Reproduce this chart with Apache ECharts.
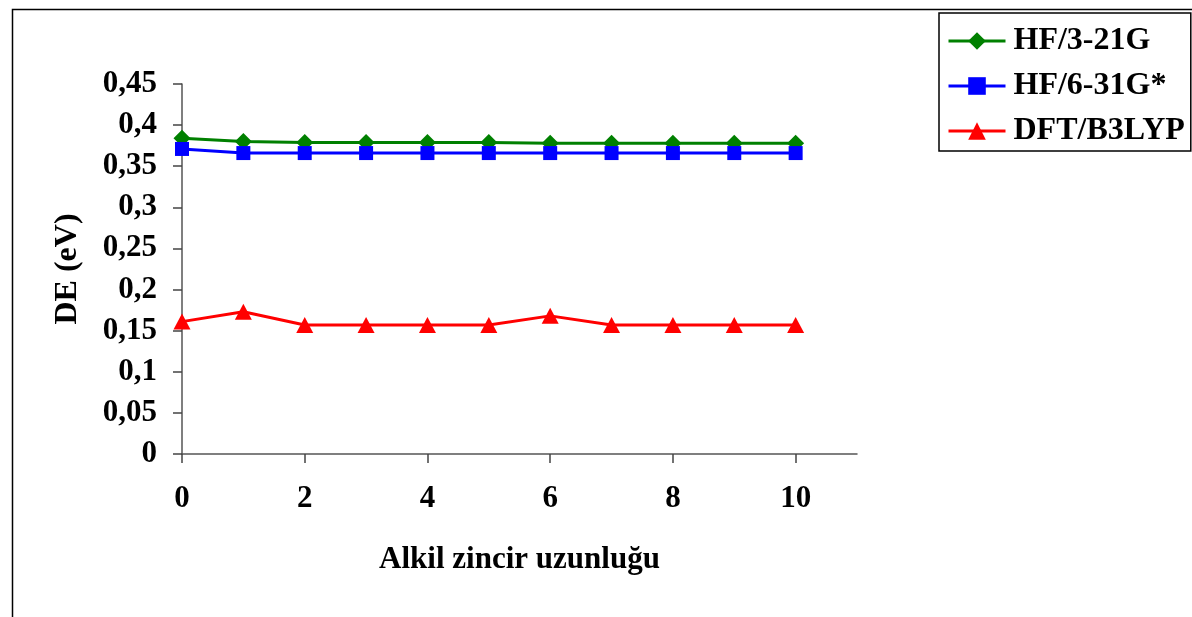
<!DOCTYPE html>
<html>
<head>
<meta charset="utf-8">
<script src="https://cdn.jsdelivr.net/npm/echarts@6/dist/echarts.min.js"></script>
<style>
  html, body { margin: 0; padding: 0; background: #fff; }
  #chart { width: 1192px; height: 617px; }
</style>
</head>
<body>
<div id="chart"></div>
<script>
// Alkyl chain length vs. energy gap (DE, eV) for three levels of theory
const chainLength = [0, 1, 2, 3, 4, 5, 6, 7, 8, 9, 10];
const hf321g  = [0.384, 0.380, 0.379, 0.379, 0.379, 0.379, 0.378, 0.378, 0.378, 0.378, 0.378];
const hf631gs = [0.371, 0.366, 0.366, 0.366, 0.366, 0.366, 0.366, 0.366, 0.366, 0.366, 0.366];
const b3lyp   = [0.161, 0.173, 0.157, 0.157, 0.157, 0.157, 0.168, 0.157, 0.157, 0.157, 0.157];
const xTicks = [0, 2, 4, 6, 8, 10];
const seriesNames = ['HF/3-21G', 'HF/6-31G*', 'DFT/B3LYP'];

const font = '"Liberation Serif", "Times New Roman", serif';
const pairs = arr => chainLength.map((x, i) => [x, arr[i]]);

const chart = echarts.init(document.getElementById('chart'), null, { renderer: 'canvas' });
chart.setOption({
  animation: false,
  backgroundColor: '#fff',
  graphic: [
    { type: 'rect', left: 10, top: 7, shape: { width: 1200, height: 640 },
      style: { fill: 'none', stroke: '#000', lineWidth: 1.5 }, silent: true }
  ],
  grid: { left: 182, top: 84, width: 675, height: 370, containLabel: false },
  legend: {
    orient: 'vertical',
    left: 939, top: 13,
    width: 251, height: 139,
    padding: [12, 6, 4, 8],
    itemGap: 13,
    itemWidth: 57, itemHeight: 22,
    borderColor: '#000', borderWidth: 1.5,
    lineStyle: { width: 3 },
    textStyle: { fontFamily: font, fontWeight: 'bold', fontSize: 32, color: '#000', padding: [0, 0, 0, 3] },
    data: seriesNames
  },
  xAxis: {
    type: 'value', min: 0, max: 11,
    name: 'Alkil zincir uzunluğu', nameLocation: 'middle', nameGap: 90,
    nameTextStyle: { fontFamily: font, fontWeight: 'bold', fontSize: 31, color: '#000' },
    axisLine: { show: true, onZero: false, lineStyle: { color: '#555', width: 1.5 } },
    axisTick: { show: true, length: 9, customValues: xTicks, lineStyle: { color: '#444', width: 1.5 } },
    axisLabel: { customValues: xTicks, margin: 29, fontFamily: font, fontWeight: 'bold', fontSize: 31, color: '#000' },
    splitLine: { show: false }
  },
  yAxis: {
    type: 'value', min: 0, max: 0.45, interval: 0.05,
    name: 'DE (eV)', nameLocation: 'middle', nameGap: 98, nameRotate: 90,
    nameTextStyle: { fontFamily: font, fontWeight: 'bold', fontSize: 32, color: '#000' },
    axisLine: { show: true, lineStyle: { color: '#555', width: 1.5 } },
    axisTick: { show: true, length: 9, lineStyle: { color: '#444', width: 1.5 } },
    axisLabel: {
      margin: 25, fontFamily: font, fontWeight: 'bold', fontSize: 31, color: '#000',
      formatter: v => (Math.round(v * 100) / 100).toString().replace('.', ',')
    },
    splitLine: { show: false }
  },
  series: [
    { name: seriesNames[0], type: 'line', data: pairs(hf321g),
      color: '#008000', symbol: 'diamond', symbolSize: [17, 17],
      lineStyle: { width: 3 }, itemStyle: { color: '#008000' } },
    { name: seriesNames[1], type: 'line', data: pairs(hf631gs),
      color: '#0000ff', symbol: 'rect', symbolSize: 14,
      lineStyle: { width: 3 }, itemStyle: { color: '#0000ff' } },
    { name: seriesNames[2], type: 'line', data: pairs(b3lyp),
      color: '#ff0000', symbol: 'triangle', symbolSize: [17, 16],
      lineStyle: { width: 3 }, itemStyle: { color: '#ff0000' } }
  ]
});
</script>
</body>
</html>
